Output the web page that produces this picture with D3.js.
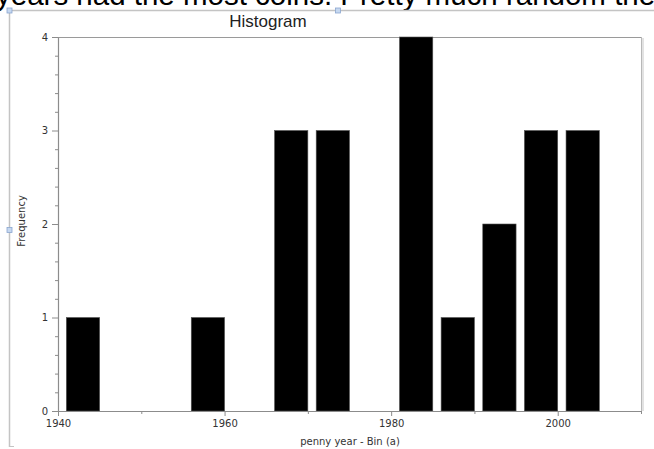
<!DOCTYPE html>
<html>
<head>
<meta charset="utf-8">
<script src="https://cdn.jsdelivr.net/npm/d3@7"></script>
<style>
  html, body { margin: 0; padding: 0; background: #fff; overflow: hidden; }
  svg { display: block; }
</style>
</head>
<body>
<svg id="chart" width="654" height="449"></svg>
<script>
// Penny mint years, grouped into 5-year bins
const binStarts = [1940, 1955, 1965, 1970, 1980, 1985, 1990, 1995, 2000];
const counts    = [1, 1, 3, 3, 4, 1, 2, 3, 3];
const binWidth = 5;
const xMajorTicks = [1940, 1960, 1980, 2000];
const xMinorTicks = [1950, 1970, 1990, 2010];
const yMajorTicks = [0, 1, 2, 3, 4];

const svg = d3.select("#chart");
const W = 654, H = 449;
const plot = { left: 58, right: 641, top: 37, bottom: 411 };

const x = d3.scaleLinear().domain([1940, 2010]).range([plot.left, plot.right]);
const y = d3.scaleLinear().domain([0, 4]).range([plot.bottom, plot.top]);

// Caption line running above the embedded chart
svg.append("text")
  .attr("x", -4).attr("y", 5)
  .attr("font-family", "Liberation Sans, Arial, sans-serif")
  .attr("font-size", 29.5)
  .attr("fill", "#000")
  .text("years had the most coins. Pretty much random the");

// Embedded object frame with selection handles
svg.append("path")
  .attr("d", `M9.5,${H - 2} V10.5 H${W}`)
  .attr("fill", "none").attr("stroke", "#c4c4c4").attr("stroke-width", 1.5);
svg.append("path")
  .attr("d", `M9.5,${H - 2.5} H14`)
  .attr("fill", "none").attr("stroke", "#c4c4c4").attr("stroke-width", 1);
[[9.5, 10.5], [338, 10.5], [9.5, 230]].forEach(([hx, hy]) => {
  svg.append("rect")
    .attr("x", hx - 2.5).attr("y", hy - 2.5).attr("width", 5).attr("height", 5)
    .attr("fill", "#c6d8f0").attr("stroke", "#8aa6cf").attr("stroke-width", 0.8);
});

// Title
svg.append("text")
  .attr("x", 268).attr("y", 26.5)
  .attr("text-anchor", "middle")
  .attr("font-family", "Liberation Sans, Arial, sans-serif")
  .attr("font-size", 17)
  .attr("fill", "#222")
  .text("Histogram");

// Plot frame: top and right edges, with a faint shadow on the right
svg.append("line")
  .attr("x1", plot.left).attr("x2", plot.right)
  .attr("y1", plot.top + 0.5).attr("y2", plot.top + 0.5)
  .attr("stroke", "#9a9a9a");
svg.append("line")
  .attr("x1", plot.right + 0.5).attr("x2", plot.right + 0.5)
  .attr("y1", plot.top).attr("y2", plot.bottom)
  .attr("stroke", "#b8b8b8");
svg.append("line")
  .attr("x1", plot.right + 2).attr("x2", plot.right + 2)
  .attr("y1", plot.top + 1).attr("y2", plot.bottom)
  .attr("stroke", "#e2e2e2").attr("stroke-width", 2);

// Bars: each bin is drawn with a one-year gap on its left side
const bins = binStarts.map((s, i) => ({ start: s, end: s + binWidth, count: counts[i] }));
svg.append("g").selectAll("rect")
  .data(bins)
  .join("rect")
  .attr("x", d => x(d.start + 1))
  .attr("width", d => x(d.end) - x(d.start + 1))
  .attr("y", d => y(d.count))
  .attr("height", d => y(0) - y(d.count))
  .attr("fill", "#000")
  .attr("stroke", "#555").attr("stroke-width", 0.6);

function styleAxis(g) {
  g.select(".domain").attr("stroke", "#8c8c8c").attr("stroke-width", 1.2);
  g.selectAll(".tick line").attr("stroke", "#8c8c8c");
  g.selectAll(".tick text")
    .attr("fill", "#333")
    .attr("font-family", "DejaVu Sans, Verdana, sans-serif")
    .attr("font-size", 10);
}

// Y axis: integer ticks plus four minor ticks between
const yMinor = d3.range(0, 20).map(i => i / 5).filter(v => v % 1 !== 0);
svg.append("g")
  .attr("transform", `translate(${plot.left},0)`)
  .call(d3.axisLeft(y).tickValues(yMinor).tickSize(3).tickFormat(""))
  .call(g => { styleAxis(g); g.select(".domain").remove(); });
svg.append("g")
  .attr("transform", `translate(${plot.left},0)`)
  .call(d3.axisLeft(y).tickValues(yMajorTicks).tickSize(6).tickSizeOuter(0).tickPadding(4).tickFormat(d3.format("d")))
  .call(styleAxis);

// X axis: labelled major ticks every 20 years, minor ticks between
svg.append("g")
  .attr("transform", `translate(0,${plot.bottom})`)
  .call(d3.axisBottom(x).tickValues(xMinorTicks).tickSize(3).tickFormat(""))
  .call(g => { styleAxis(g); g.select(".domain").remove(); });
svg.append("g")
  .attr("transform", `translate(0,${plot.bottom})`)
  .call(d3.axisBottom(x).tickValues(xMajorTicks).tickSize(5).tickSizeOuter(0).tickPadding(4).tickFormat(d3.format("d")))
  .call(styleAxis);

// Axis titles
svg.append("text")
  .attr("x", 350).attr("y", 445)
  .attr("text-anchor", "middle")
  .attr("font-family", "DejaVu Sans, Verdana, sans-serif")
  .attr("font-size", 10)
  .attr("fill", "#333")
  .text("penny year - Bin (a)");
svg.append("text")
  .attr("transform", "translate(25,221) rotate(-90)")
  .attr("text-anchor", "middle")
  .attr("font-family", "DejaVu Sans, Verdana, sans-serif")
  .attr("font-size", 10)
  .attr("fill", "#333")
  .text("Frequency");
</script>
</body>
</html>
